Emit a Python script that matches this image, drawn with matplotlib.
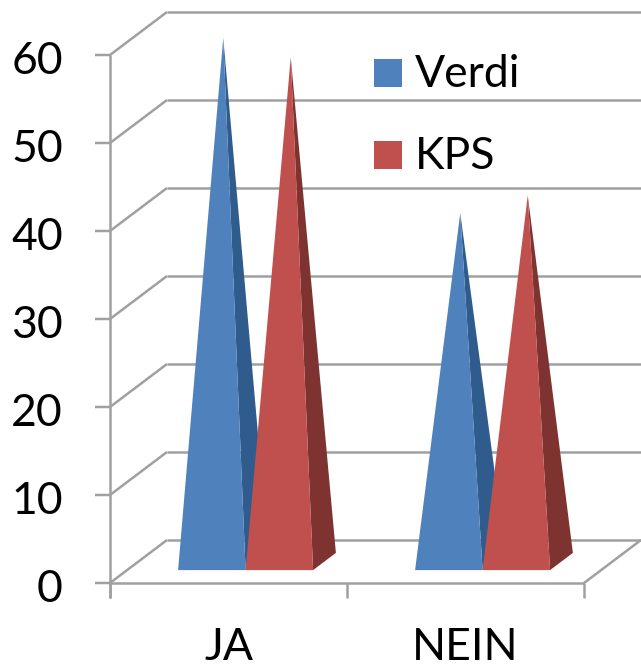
import matplotlib
matplotlib.use("Agg")
from matplotlib import pyplot as plt
from matplotlib.patches import Polygon, Rectangle

categories = ["JA", "NEIN"]
series_names = ["Verdi", "KPS"]
verdi = [59.5, 39.6]
kps = [57.3, 41.6]
y_ticks = [0, 10, 20, 30, 40, 50, 60]

front_colors = ["#4F81BD", "#C0504D"]
side_colors = ["#2F5C8C", "#7F3330"]
grid_color = "#A0A0A0"

# one category is 237 px wide, one value unit 8.8 px
px_x = 237.0
px_y = 8.8
depth_x = 57 / px_x
depth_y = 43 / px_y
bar_w = 67.5 / px_x
bar_d0 = 0.30
bar_d1 = 0.70

plt.rcParams["font.family"] = ["Lato", "DejaVu Sans"]

fig = plt.figure(figsize=(6.41, 6.67), dpi=100)
ax = fig.add_axes([0, 0, 1, 1])
ax.set_xlim(-110 / px_x, (641 - 110) / px_x)
ax.set_ylim(-(667 - 583) / px_y, 583 / px_y)
ax.axis("off")

line_kw = dict(color=grid_color, lw=1.8, solid_capstyle="butt", zorder=1)
n = len(categories)
tick_x = -15 / px_x

# walls and gridlines
for v in y_ticks:
    ax.plot([tick_x, 0, depth_x], [v, v, v + depth_y], **line_kw)
    ax.plot([depth_x, ax.get_xlim()[1]], [v + depth_y, v + depth_y], **line_kw)
    ax.text(-47 / px_x, v - 2.5 / px_y, str(v), fontsize=32, ha="right", va="center_baseline")

# floor and axes
ax.plot([0, 0], [-15 / px_y, y_ticks[-1]], **line_kw)
ax.plot([0, n], [0, 0], **line_kw)
ax.plot([n, n + depth_x], [0, depth_y], **line_kw)
for i in range(n + 1):
    ax.plot([i, i], [-15 / px_y, 0], **line_kw)


def pyramid(left, value, k):
    d = depth_x * bar_d0, depth_y * bar_d0
    e = depth_x * bar_d1, depth_y * bar_d1
    right = left + bar_w
    apex = (left + bar_w / 2 + depth_x / 2, value + depth_y / 2)
    ax.add_patch(Polygon([(right + d[0], d[1]), (right + e[0], e[1]), apex],
                         fc=side_colors[k], ec="none", zorder=3))
    ax.add_patch(Polygon([(left + d[0], d[1]), (right + d[0], d[1]), apex],
                         fc=front_colors[k], ec="none", zorder=3))


for i, cat in enumerate(categories):
    c = i + 0.5
    pyramid(c - bar_w, verdi[i], 0)
    pyramid(c, kps[i], 1)
    ax.text(c, -77 / px_y, cat, fontsize=32, ha="center", va="baseline")

# legend
for k, name in enumerate(series_names):
    top = 59 + 82 * k
    ax.add_patch(Rectangle(((374 - 110) / px_x, (583 - top - 28) / px_y), 28 / px_x, 28 / px_y,
                           fc=front_colors[k], ec="none", zorder=4))
    ax.text((415 - 110) / px_x, (583 - top - 28) / px_y, name, fontsize=32, ha="left", va="baseline")

fig.savefig("out.png", dpi=100)
